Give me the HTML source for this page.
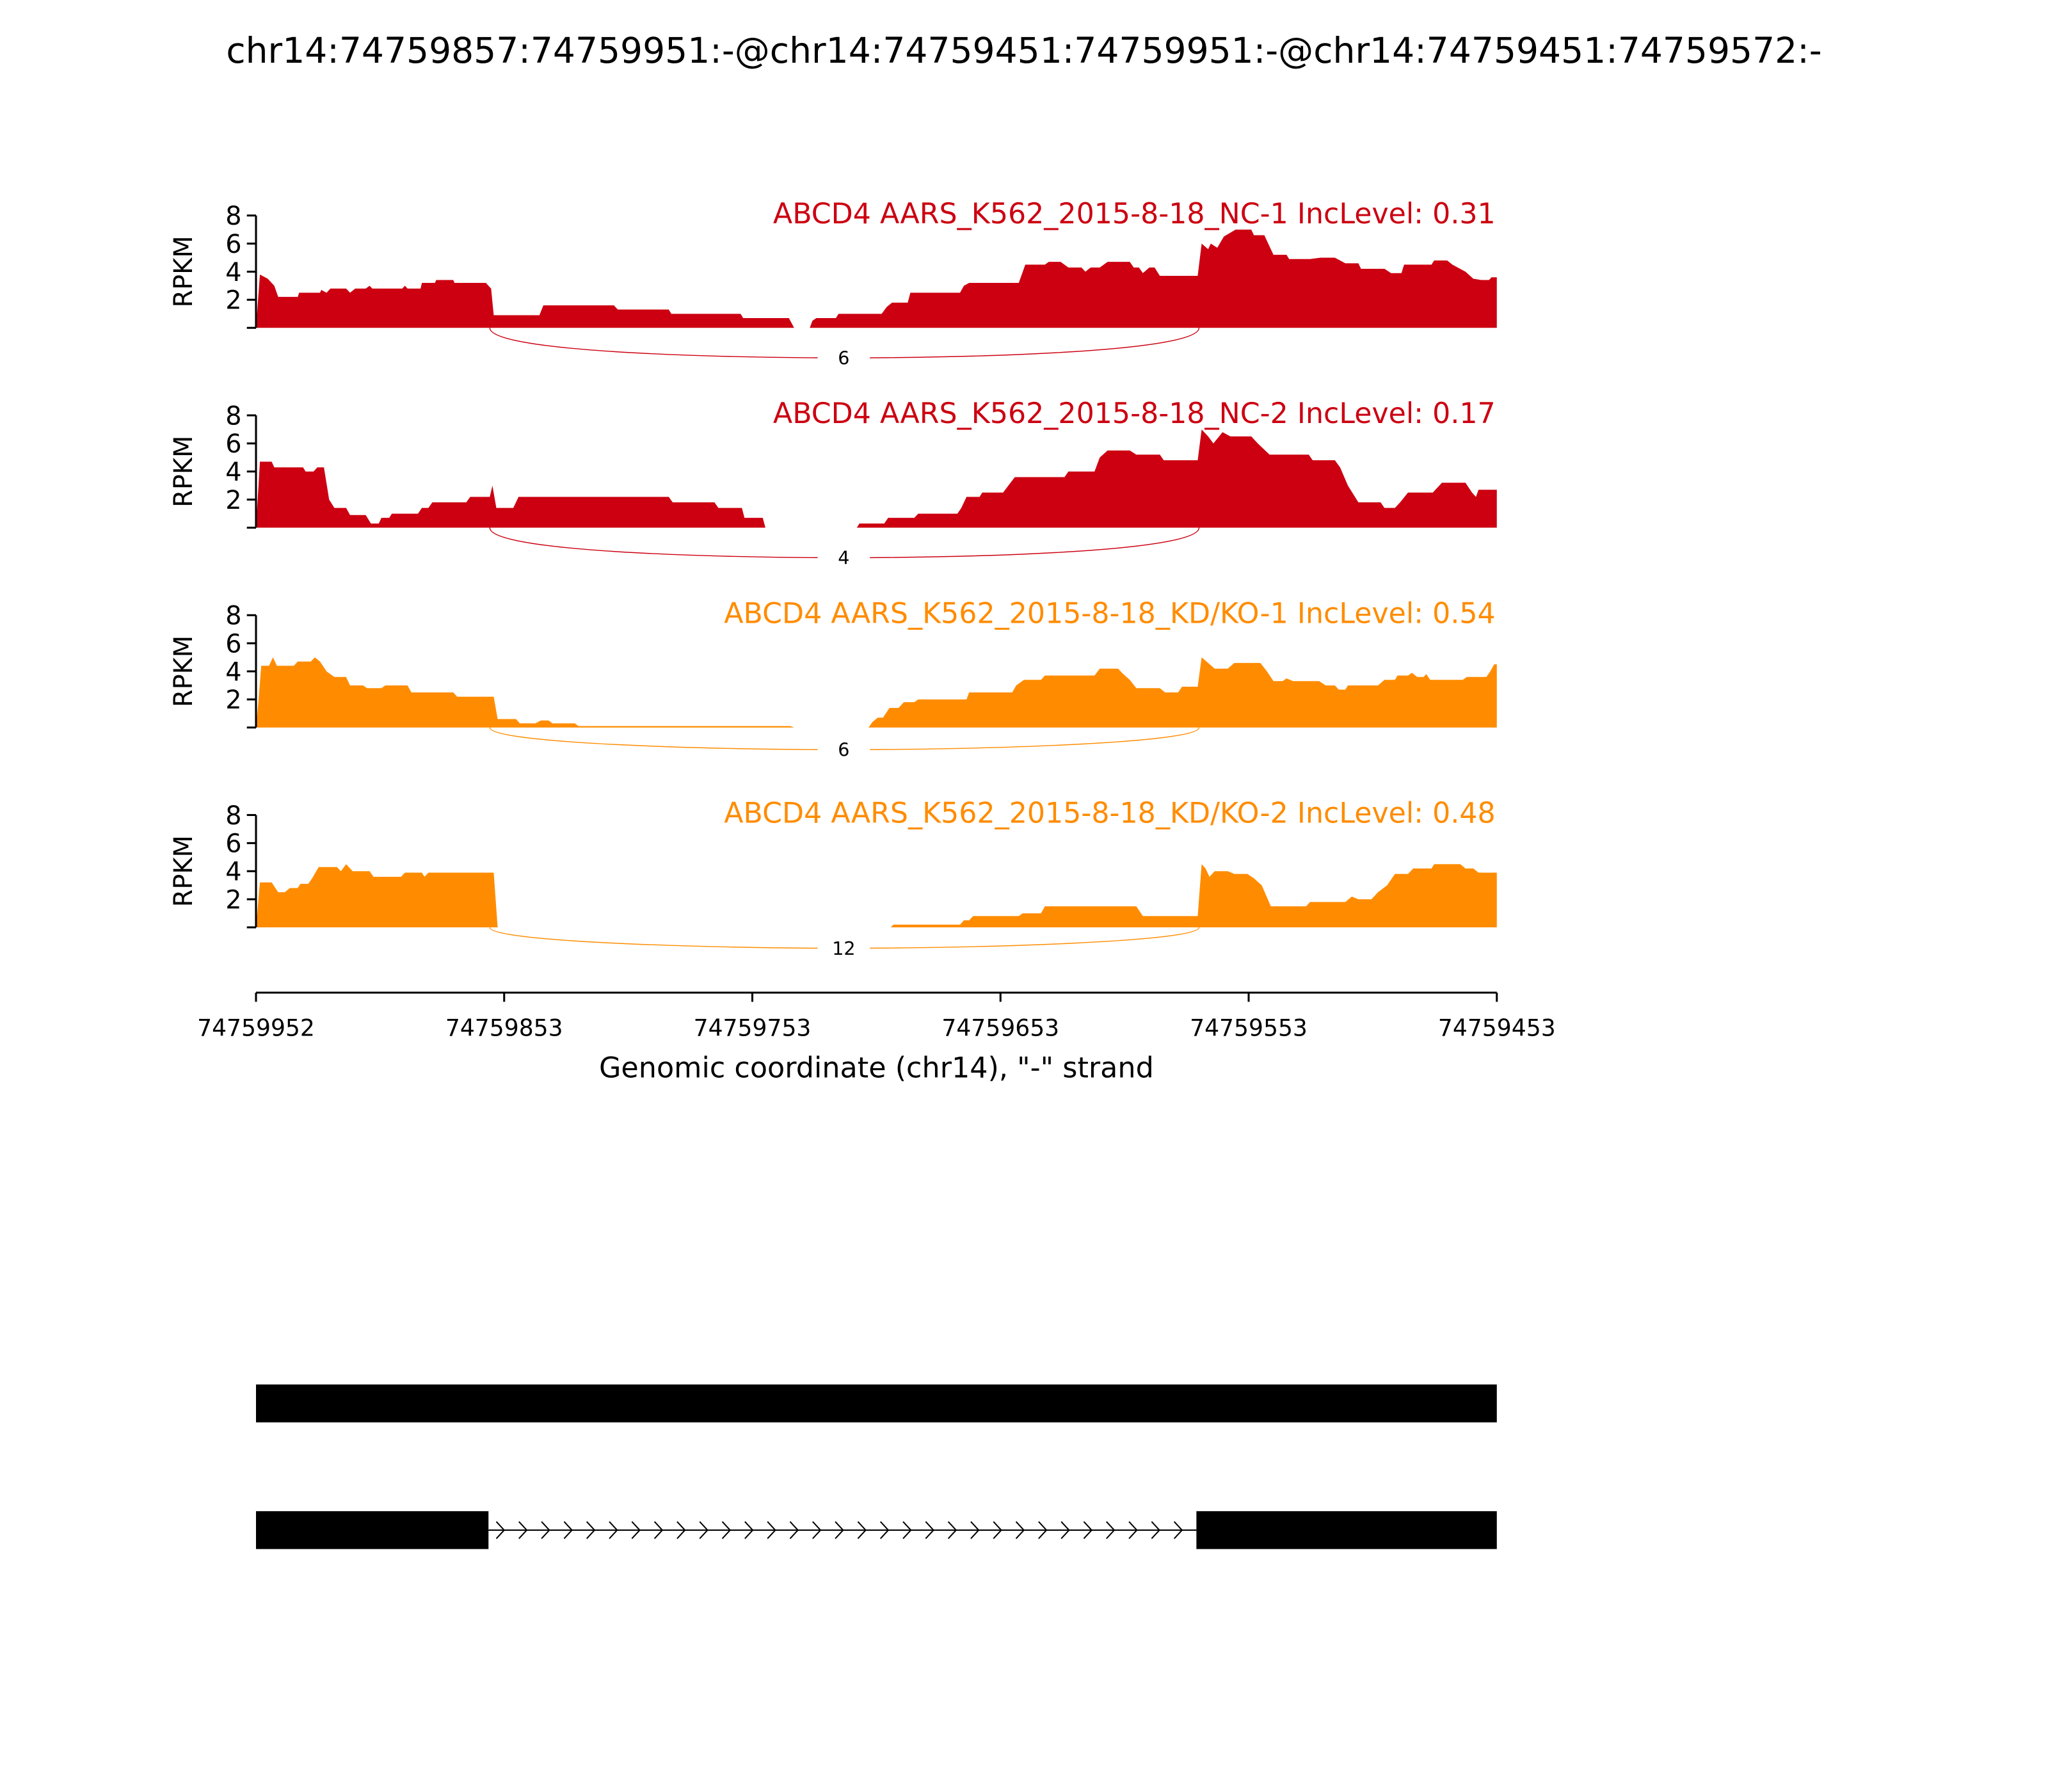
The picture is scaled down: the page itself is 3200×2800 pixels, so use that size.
<!DOCTYPE html>
<html><head><meta charset="utf-8"><style>html,body{margin:0;padding:0;background:#fff}svg{display:block}</style></head>
<body>
<svg id="s" xmlns="http://www.w3.org/2000/svg" width="3200" height="2800" viewBox="0 0 1568 1372" font-family="'DejaVu Sans','Liberation Sans',sans-serif">
<rect width="1568" height="1372" fill="#fff"/>
<text x="784" y="48" font-size="27" text-anchor="middle">chr14:74759857:74759951:-@chr14:74759451:74759951:-@chr14:74759451:74759572:-</text>
<g id="panels"></g>
<g stroke="#000" stroke-width="1.5">
<line x1="196" y1="760" x2="1146" y2="760"/>
<line x1="196" y1="760" x2="196" y2="767"/><line x1="386" y1="760" x2="386" y2="767"/><line x1="576" y1="760" x2="576" y2="767"/><line x1="766" y1="760" x2="766" y2="767"/><line x1="956" y1="760" x2="956" y2="767"/><line x1="1146" y1="760" x2="1146" y2="767"/>
</g>
<g font-size="17.7" text-anchor="middle">
<text x="196" y="793">74759952</text><text x="386" y="793">74759853</text><text x="576" y="793">74759753</text><text x="766" y="793">74759653</text><text x="956" y="793">74759553</text><text x="1146" y="793">74759453</text>
</g>
<text x="671" y="825" font-size="21.8" text-anchor="middle">Genomic coordinate (chr14), "-" strand</text>
<rect x="196" y="1060" width="950" height="29" fill="#000"/>
<rect x="196" y="1157" width="178" height="29" fill="#000"/>
<rect x="916" y="1157" width="230" height="29" fill="#000"/>
<line x1="374" y1="1171.5" x2="916" y2="1171.5" stroke="#000" stroke-width="1"/>
<g id="chev" fill="none" stroke="#000" stroke-width="1"></g>
<script>
var NS="http://www.w3.org/2000/svg";
function el(t,a,p){var e=document.createElementNS(NS,t);for(var k in a)e.setAttribute(k,a[k]);p.appendChild(e);return e;}
var ch=document.getElementById('chev');
for(var x=380;x<914;x+=17.3){el('path',{d:'M'+x+' 1165 L'+(x+6)+' 1171.5 L'+x+' 1178'},ch);}
var red="#CC0011",org="#FF8C00";
var data=[
{base:251,off:23,col:red,lab:"ABCD4 AARS_K562_2015-8-18_NC-1 IncLevel: 0.31",n:"6",d:[[196,0],[199,3.8],[205,3.5],[210,3.0],[213,2.2],[228,2.2],[229,2.5],[245,2.5],[246,2.7],[250,2.5],[253,2.8],[265,2.8],[268,2.5],[272,2.8],[280,2.8],[283,3.0],[285,2.8],[308,2.8],[310,3.0],[312,2.8],[322,2.8],[323,3.2],[333,3.2],[334,3.4],[347,3.4],[348,3.2],[372,3.2],[376,2.8],[378,0.9],[413,0.9],[416,1.6],[470,1.6],[473,1.3],[512,1.3],[514,1.0],[567,1.0],[569,0.7],[604,0.7],[608,0],[620,0],[622,0.5],[625,0.7],[640,0.7],[642,1.0],[675,1.0],[679,1.5],[683,1.8],[695,1.8],[697,2.5],[735,2.5],[738,3.0],[742,3.2],[780,3.2],[785,4.5],[800,4.5],[803,4.7],[812,4.7],[818,4.3],[828,4.3],[831,4.0],[835,4.3],[842,4.3],[848,4.7],[865,4.7],[868,4.3],[872,4.3],[875,3.9],[880,4.3],[884,4.3],[888,3.7],[917,3.7],[920,6.0],[925,5.6],[927,6.0],[932,5.7],[937,6.5],[946,7.0],[958,7.0],[960,6.6],[968,6.6],[975,5.2],[985,5.2],[987,4.9],[1003,4.9],[1011,5.0],[1022,5.0],[1030,4.6],[1040,4.6],[1042,4.2],[1060,4.2],[1065,3.9],[1073,3.9],[1075,4.5],[1096,4.5],[1098,4.8],[1108,4.8],[1112,4.5],[1122,4.0],[1128,3.5],[1134,3.4],[1140,3.4],[1142,3.6],[1146,3.6]]},
{base:404,off:23,col:red,lab:"ABCD4 AARS_K562_2015-8-18_NC-2 IncLevel: 0.17",n:"4",d:[[196,0],[199,4.7],[208,4.7],[210,4.3],[232,4.3],[234,4.0],[240,4.0],[243,4.3],[248,4.3],[252,2.0],[256,1.4],[265,1.4],[268,0.9],[280,0.9],[284,0.3],[290,0.3],[292,0.7],[298,0.7],[300,1.0],[320,1.0],[323,1.4],[328,1.4],[331,1.8],[357,1.8],[360,2.2],[375,2.2],[377,3.0],[380,1.4],[393,1.4],[397,2.2],[512,2.2],[515,1.8],[547,1.8],[550,1.4],[568,1.4],[570,0.7],[584,0.7],[586,0],[656,0],[658,0.3],[677,0.3],[680,0.7],[700,0.7],[703,1.0],[733,1.0],[736,1.4],[740,2.2],[750,2.2],[752,2.5],[768,2.5],[772,3.0],[777,3.6],[815,3.6],[818,4.0],[838,4.0],[842,5.0],[848,5.5],[865,5.5],[870,5.2],[888,5.2],[891,4.8],[917,4.8],[920,7.0],[925,6.5],[929,6.0],[936,6.8],[942,6.5],[958,6.5],[963,6.0],[972,5.2],[1002,5.2],[1005,4.8],[1022,4.8],[1026,4.3],[1032,3.0],[1040,1.8],[1057,1.8],[1060,1.4],[1068,1.4],[1072,1.8],[1078,2.5],[1097,2.5],[1100,2.8],[1104,3.2],[1122,3.2],[1127,2.5],[1130,2.2],[1132,2.7],[1146,2.7]]},
{base:557,off:17,col:org,lab:"ABCD4 AARS_K562_2015-8-18_KD/KO-1 IncLevel: 0.54",n:"6",d:[[196,0],[198,2],[200,4.4],[206,4.4],[209,5.0],[212,4.4],[225,4.4],[228,4.7],[238,4.7],[241,5.0],[245,4.7],[250,4.0],[256,3.6],[265,3.6],[268,3.0],[278,3.0],[281,2.8],[292,2.8],[295,3.0],[312,3.0],[315,2.5],[347,2.5],[350,2.2],[378,2.2],[381,0.6],[395,0.6],[398,0.3],[410,0.3],[414,0.5],[420,0.5],[423,0.3],[440,0.3],[443,0.1],[605,0.1],[608,0],[665,0],[668,0.4],[672,0.7],[676,0.7],[681,1.4],[688,1.4],[692,1.8],[700,1.8],[703,2.0],[740,2.0],[742,2.5],[775,2.5],[778,3.0],[784,3.4],[797,3.4],[800,3.7],[838,3.7],[842,4.2],[856,4.2],[860,3.8],[865,3.4],[870,2.8],[888,2.8],[892,2.5],[902,2.5],[905,2.9],[917,2.9],[920,5.0],[925,4.6],[930,4.2],[940,4.2],[945,4.6],[965,4.6],[970,4.0],[975,3.3],[982,3.3],[985,3.5],[990,3.3],[1010,3.3],[1015,3.0],[1022,3.0],[1025,2.7],[1030,2.7],[1032,3.0],[1055,3.0],[1060,3.4],[1068,3.4],[1070,3.7],[1078,3.7],[1081,3.9],[1085,3.6],[1090,3.6],[1092,3.8],[1095,3.4],[1120,3.4],[1123,3.6],[1138,3.6],[1141,4.0],[1144,4.5],[1146,4.5]]},
{base:710,off:16,col:org,lab:"ABCD4 AARS_K562_2015-8-18_KD/KO-2 IncLevel: 0.48",n:"12",d:[[196,0],[199,3.2],[208,3.2],[213,2.5],[218,2.5],[222,2.8],[228,2.8],[230,3.1],[236,3.1],[239,3.5],[244,4.3],[258,4.3],[261,4.0],[265,4.5],[270,4.0],[283,4.0],[286,3.6],[307,3.6],[310,3.9],[323,3.9],[325,3.6],[328,3.9],[378,3.9],[381,0],[682,0],[684,0.2],[735,0.2],[738,0.5],[742,0.5],[745,0.8],[780,0.8],[783,1.0],[797,1.0],[800,1.5],[870,1.5],[875,0.8],[917,0.8],[920,4.5],[923,4.2],[926,3.6],[930,4.0],[940,4.0],[945,3.8],[955,3.8],[960,3.5],[966,3.0],[973,1.5],[1000,1.5],[1003,1.8],[1030,1.8],[1035,2.2],[1040,2.0],[1050,2.0],[1055,2.5],[1062,3.0],[1068,3.8],[1078,3.8],[1082,4.2],[1096,4.2],[1098,4.5],[1118,4.5],[1122,4.2],[1128,4.2],[1132,3.9],[1146,3.9]]}
];
var P=document.getElementById('panels');
data.forEach(function(p){
  var b=p.base,u=10.75,g=el('g',{},P);
  var d='M196 '+b;p.d.forEach(function(q){d+=' L'+q[0]+' '+(b-q[1]*u).toFixed(1);});d+=' L1146 '+b+' Z';
  el('path',{d:d,fill:p.col,stroke:'none'},g);
  el('line',{x1:196,y1:b,x2:196,y2:b-86,stroke:'#000','stroke-width':1.5},g);
  [0,2,4,6,8].forEach(function(v){var y=b-v*u;el('line',{x1:189,y1:y,x2:196,y2:y,stroke:'#000','stroke-width':1.5},g);
    if(v>0){var t=el('text',{x:185,y:y+7,'font-size':19.5,'text-anchor':'end'},g);t.textContent=v;}});
  var t=el('text',{x:147,y:b-43,'font-size':19.5,'text-anchor':'middle',transform:'rotate(-90 147 '+(b-43)+')'},g);t.textContent='RPKM';
  t=el('text',{x:1145,y:b-80,'font-size':21.7,'text-anchor':'end',fill:p.col},g);t.textContent=p.lab;
  var a=b+p.off;
  el('path',{d:'M375 '+b+' C375 '+(a-5)+' 540 '+a+' 646 '+a+' C752 '+a+' 918 '+(a-5)+' 918 '+b,fill:'none',stroke:p.col,'stroke-width':0.7},g);
  el('rect',{x:626,y:a-9,width:40,height:18,fill:'#fff'},g);
  t=el('text',{x:646,y:a+5,'font-size':14,'text-anchor':'middle'},g);t.textContent=p.n;
});
</script>
</svg>
</body></html>
